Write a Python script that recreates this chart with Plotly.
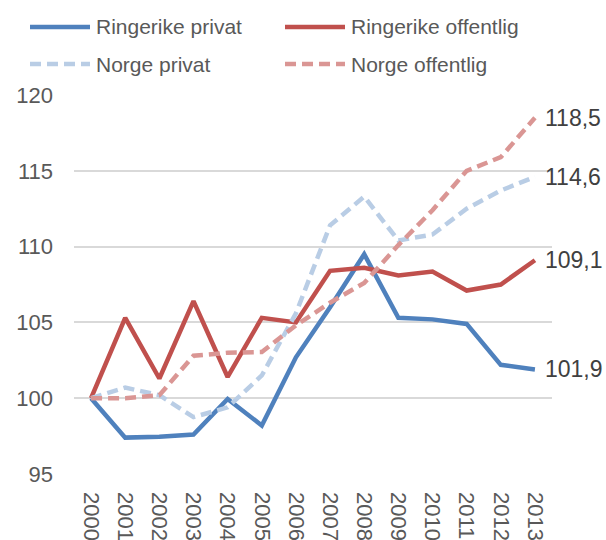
import plotly.graph_objects as go

years = [str(y) for y in range(2000, 2014)]

ringerike_privat = [100.0, 97.4, 97.45, 97.6, 99.95, 98.2, 102.7, 106.0, 109.5, 105.3, 105.2, 104.9, 102.2, 101.9]
ringerike_offentlig = [100.0, 105.3, 101.3, 106.4, 101.4, 105.3, 105.0, 108.4, 108.6, 108.1, 108.35, 107.1, 107.5, 109.1]
norge_privat = [100.0, 100.7, 100.2, 98.75, 99.4, 101.5, 105.6, 111.4, 113.3, 110.4, 110.8, 112.5, 113.7, 114.6]
norge_offentlig = [100.0, 100.0, 100.2, 102.8, 103.0, 103.05, 104.8, 106.3, 107.6, 110.1, 112.4, 115.0, 115.9, 118.5]

names = ["Ringerike privat", "Ringerike offentlig", "Norge privat", "Norge offentlig"]
colors = ["#4F81BD", "#C0504D", "#B9CDE5", "#DA9694"]
dashes = ["solid", "solid", "11px,6px", "11px,6px"]
series = [ringerike_privat, ringerike_offentlig, norge_privat, norge_offentlig]

W, H = 606, 540
ML, MR, MT, MB = 74, 54, 95, 66


def px(x):
    return (x - ML) / (W - ML - MR)


def py(y):
    return (H - MB - y) / (H - MT - MB)


fig = go.Figure()
for name, vals, col, dash in zip(names, series, colors, dashes):
    fig.add_trace(go.Scatter(x=years, y=vals, name=name, mode="lines",
                             line=dict(color=col, width=4.5, dash=dash),
                             showlegend=False))

# end labels (x given as category index of the last year)
for vals in series:
    fig.add_annotation(x=len(years) - 1, y=vals[-1], text=f"{vals[-1]:.1f}".replace(".", ","),
                       showarrow=False, xanchor="left", xshift=8,
                       font=dict(size=23, color="#404040"))

# manual legend (wider line samples like the original)
legend_pos = [(30, 27), (285, 27), (30, 64), (285, 64)]
for (lx, ly), name, col, dash in zip(legend_pos, names, colors, dashes):
    fig.add_shape(type="line", xref="paper", yref="paper",
                  x0=px(lx), x1=px(lx + 60), y0=py(ly), y1=py(ly),
                  line=dict(color=col, width=4.5, dash=dash))
    fig.add_annotation(xref="paper", yref="paper", x=px(lx + 64), y=py(ly),
                       text=name, showarrow=False, xanchor="left", yanchor="middle",
                       font=dict(size=21, color="#595959"))

fig.update_layout(
    width=W, height=H,
    margin=dict(l=ML, r=MR, t=MT, b=MB),
    paper_bgcolor="white", plot_bgcolor="white",
    font=dict(family="Liberation Sans, Arial", color="#595959"),
    showlegend=False,
)
fig.update_xaxes(type="category", range=[-0.5, len(years) - 0.5], tickangle=90,
                 showgrid=False, ticks="", tickfont=dict(size=22, color="#595959"),
                 automargin=False, showline=False, zeroline=False,
                 ticklabelstandoff=17)
fig.update_yaxes(range=[95, 120], dtick=5, showgrid=True, gridcolor="#D9D9D9",
                 gridwidth=1.5, zeroline=False, showline=False, ticks="",
                 tickfont=dict(size=22, color="#595959"), automargin=False,
                 ticklabelstandoff=20)

# drop the default page margin so the figure fills the window exactly
fig.write_html("out.html", config={"displayModeBar": False},
               post_script="document.body.style.margin='0';document.body.style.overflow='hidden';")
